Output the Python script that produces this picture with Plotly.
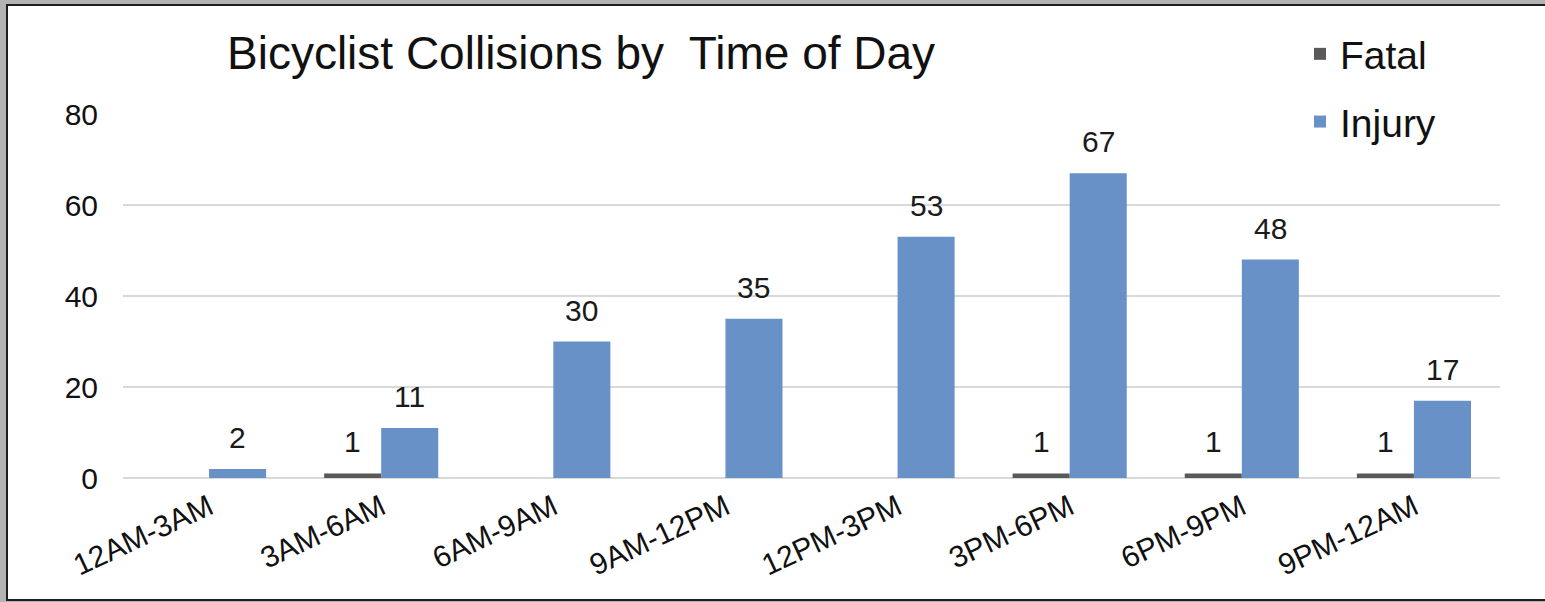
import plotly.graph_objects as go

categories = ["12AM-3AM", "3AM-6AM", "6AM-9AM", "9AM-12PM", "12PM-3PM", "3PM-6PM", "6PM-9PM", "9PM-12AM"]
fatal = [0, 1, 0, 0, 0, 1, 1, 1]
injury = [2, 11, 30, 35, 53, 67, 48, 17]
y_ticks = [0, 20, 40, 60, 80]

W, H = 1545, 602
L, R, T, B = 123, 45, 114, 124
pw, ph = W - L - R, H - T - B

def px_x(p):
    return (p - L) / pw

def px_y(p):
    return (H - B - p) / ph

FONT = "Liberation Sans, Arial, sans-serif"
fatal_color = "#595959"
injury_color = "#6892C7"

fig = go.Figure()
fig.add_trace(go.Bar(name="Fatal", x=categories, y=fatal, marker=dict(color=fatal_color, line=dict(width=0)),
                     legendgroup="f"))
fig.add_trace(go.Bar(name="Injury", x=categories, y=injury, marker=dict(color=injury_color, line=dict(width=0)),
                     legendgroup="i"))

# data labels
cat_w = pw / len(categories)
bargap = 0.337
bar_w = cat_w * (1 - bargap) / 2
annotations = []
for c, v in zip(categories, fatal):
    if v:
        annotations.append(dict(x=c, y=v, xref="x", yref="y", text=str(v), showarrow=False,
                                xshift=-bar_w / 2, yshift=13, yanchor="bottom",
                                font=dict(family=FONT, size=30, color="#1a1a1a")))
for c, v in zip(categories, injury):
    annotations.append(dict(x=c, y=v, xref="x", yref="y", text=str(v), showarrow=False,
                            xshift=bar_w / 2, yshift=13, yanchor="bottom",
                            font=dict(family=FONT, size=30, color="#1a1a1a")))

shapes = [
    dict(type="rect", xref="paper", yref="paper", x0=px_x(-5), x1=px_x(W + 5), y0=px_y(H + 5), y1=px_y(-5),
         fillcolor="#b4b4b4", line=dict(width=0), layer="below"),
    dict(type="rect", xref="paper", yref="paper", x0=px_x(7), x1=px_x(W + 10), y0=px_y(600), y1=px_y(5),
         fillcolor="white", line=dict(color="#1e1e1e", width=2), layer="below"),
]

fig.update_layout(
    width=W, height=H,
    margin=dict(l=L, r=R, t=T, b=B),
    paper_bgcolor="#b4b4b4",
    plot_bgcolor="rgba(0,0,0,0)",
    barmode="group",
    bargap=bargap,
    bargroupgap=0,
    title=dict(text="Bicyclist Collisions by  Time of Day", x=227 / W, xanchor="left",
               xref="container", yref="container", y=(H - 53) / H, yanchor="middle",
               font=dict(family=FONT, size=46, color="#111111")),
    legend=dict(x=px_x(1300), xanchor="left", y=px_y(22), yanchor="top",
                font=dict(family=FONT, size=39, color="#111111"),
                tracegroupgap=14, bgcolor="rgba(0,0,0,0)", itemwidth=30),
    font=dict(family=FONT, color="#111111"),
    annotations=annotations,
    shapes=shapes,
    xaxis=dict(tickangle=-25, tickfont=dict(family=FONT, size=30, color="#111111"),
               showline=False, showgrid=False, ticks="", ticklabelstandoff=5),
    yaxis=dict(range=[0, 80], tickvals=y_ticks, tickfont=dict(family=FONT, size=30, color="#111111"),
               gridcolor="#d9d9d9", gridwidth=2, zeroline=True, zerolinecolor="#d9d9d9", zerolinewidth=2,
               showline=False, ticks="", ticklabelstandoff=24),
)

fig.write_html("out.html", config={"displayModeBar": False},
               post_script="document.body.style.margin='0';document.body.style.overflow='hidden';")
